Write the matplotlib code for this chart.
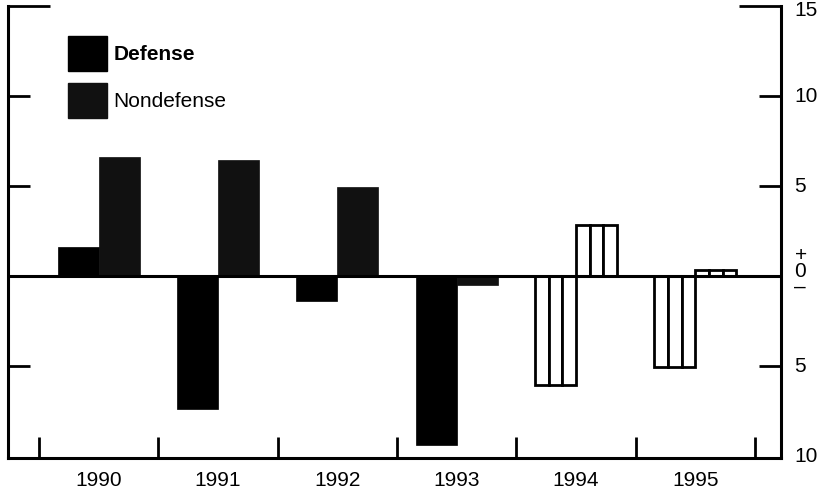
import matplotlib
matplotlib.use("Agg")
import matplotlib.pyplot as plt
import numpy as np
from matplotlib.patches import Patch

plt.rcParams['font.family'] = ['Liberation Sans', 'DejaVu Sans']

years = ["1990", "1991", "1992", "1993", "1994", "1995"]
defense = [1.6, -7.4, -1.4, -9.4, -6.05, -5.05]
nondefense = [6.6, 6.45, 4.95, -0.5, 2.85, 0.33]
projected = [False, False, False, False, True, True]
ytick_vals = [15, 10, 5, 0, -5, -10]
ytick_labels = ["15", "10", "5", "+\n0\n\u2013", "5", "10"]

W, H = 824, 495
fig = plt.figure(figsize=(W / 100, H / 100), dpi=100)
left, right, top, bottom = 8, 780.5, 6, 458
ax = fig.add_axes([left / W, 1 - bottom / H, (right - left) / W, (bottom - top) / H])

x = np.arange(len(years))
bw = 0.345
off = 0.172
dcol = "#000000"
ncol = "#111111"
FS = 15

for i in range(len(years)):
    for val, sign, col in ((defense[i], -1, dcol), (nondefense[i], 1, ncol)):
        cx = x[i] + sign * off
        if projected[i]:
            sub = bw / 3
            for k in (-1, 0, 1):
                ax.bar(cx + k * sub, val, width=sub, color="white",
                       edgecolor="black", linewidth=2.0, zorder=2)
        else:
            ax.bar(cx, val, width=bw, color=col, edgecolor=col,
                   linewidth=0.5, zorder=2)

ax.axhline(0, color="black", linewidth=2.2, zorder=3)

ax.set_xlim(-0.76, 5.714)
ax.set_ylim(-10.1, 15)

ax.spines["top"].set_visible(False)
for s in ("left", "right", "bottom"):
    ax.spines[s].set_linewidth(2.2)

# y ticks: inward on both sides, labels on right
ax.set_yticks([10, 5, -5])
ax.set_yticks([15], minor=True)
ax.tick_params(axis="y", which="major", direction="in", length=16, width=2.0,
               left=True, right=True, labelleft=False, labelright=False)
ax.tick_params(axis="y", which="minor", direction="in", length=30, width=2.0,
               left=True, right=True, labelleft=False, labelright=False)
ytrans = ax.get_yaxis_transform()
for v, lab in zip(ytick_vals, ytick_labels):
    dy = -4 if v == 15 else (5 if v == 0 else 0)
    ax.annotate(lab, xy=(1.0, v), xycoords=ytrans, xytext=(14, dy),
                textcoords="offset pixels", ha="left", va="center",
                fontsize=FS, linespacing=0.8, annotation_clip=False)

# x ticks: boundaries upward, labels at centres
ax.set_xticks(np.arange(-0.5, len(years), 1.0))
ax.set_xticklabels([])
ax.tick_params(axis="x", which="major", direction="in", length=15, width=2.0)
ax.set_xticks(x, minor=True)
ax.set_xticklabels(years, minor=True, fontsize=FS)
ax.tick_params(axis="x", which="minor", length=0, pad=9)

# legend
handles = [Patch(facecolor=dcol, edgecolor=dcol), Patch(facecolor=ncol, edgecolor=ncol)]
leg = fig.legend(handles, ["Defense", "Nondefense"], loc="upper left",
                 bbox_to_anchor=(68 / W, 1 - 36 / H), frameon=False,
                 fontsize=FS, handlelength=1.87, handleheight=2.2,
                 labelspacing=0.6, handletextpad=0.3, borderpad=0,
                 borderaxespad=0)
leg.get_texts()[0].set_fontweight("bold")

fig.savefig("out.png", dpi=100)
